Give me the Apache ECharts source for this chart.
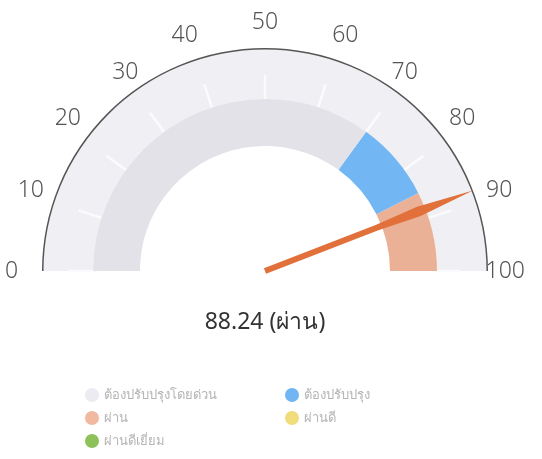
<!DOCTYPE html>
<html>
<head>
<meta charset="utf-8">
<script src="https://cdn.jsdelivr.net/npm/echarts@6/dist/echarts.min.js"></script>
<style>
  html, body { margin: 0; padding: 0; background: #fff; }
  #main { width: 542px; height: 459px; }
</style>
</head>
<body>
<div id="main"></div>
<script>
// gauge data
var gaugeMin = 0;
var gaugeMax = 100;
var scoreValue = [88.24];
var scoreLabel = 'ผ่าน';
// inner band: upper bound (0..1) of each coloured segment
var bandStops = [0.70, 0.85, 1.0];
var bandColors = ['#e2e2e8', '#72b6f4', '#eab196'];
// legend
var legendNames = ['ต้องปรับปรุงโดยด่วน', 'ผ่าน', 'ผ่านดีเยี่ยม', 'ต้องปรับปรุง', 'ผ่านดี'];
var legendColors = ['#ecebf2', '#f1b9a0', '#8dc15a', '#71b5f3', '#f0dc7a'];

var chart = echarts.init(document.getElementById('main'));
var ctr = [265, 271];
var fontFam = "'Noto Sans', 'DejaVu Sans', sans-serif";

var hidden = {
  axisTick: { show: false },
  axisLabel: { show: false },
  pointer: { show: false },
  anchor: { show: false },
  title: { show: false },
  detail: { show: false }
};

var option = {
  animation: false,
  legend: [
    {
      orient: 'vertical', left: 80, top: 383, itemGap: 9,
      itemWidth: 14, itemHeight: 14, icon: 'circle',
      data: legendNames.slice(0, 3),
      textStyle: { color: '#b5b5b5', fontSize: 13, fontFamily: fontFam }
    },
    {
      orient: 'vertical', left: 280, top: 383, itemGap: 9,
      itemWidth: 14, itemHeight: 14, icon: 'circle',
      data: legendNames.slice(3),
      textStyle: { color: '#b5b5b5', fontSize: 13, fontFamily: fontFam }
    }
  ],
  series: [
    Object.assign({
      type: 'gauge', center: ctr, radius: 222,
      startAngle: 180, endAngle: 0, min: gaugeMin, max: gaugeMax, splitNumber: 10,
      axisLine: { lineStyle: { width: 50, color: [[1, '#f0f0f4']] } },
      silent: true, data: []
    }, hidden, { splitLine: { show: true, distance: -24, length: 28, lineStyle: { color: '#fbfbfd', width: 2.5 } } }),
    Object.assign({
      type: 'gauge', center: ctr, radius: 172,
      startAngle: 180, endAngle: 0, min: gaugeMin, max: gaugeMax,
      axisLine: { lineStyle: { width: 47, color: bandStops.map(function (s, i) { return [s, bandColors[i]]; }) } },
      splitLine: { show: false },
      silent: true, data: []
    }, hidden),
    {
      type: 'gauge', center: ctr, radius: 223,
      startAngle: 180, endAngle: 0, min: gaugeMin, max: gaugeMax, splitNumber: 10,
      axisLine: { lineStyle: { width: 1.5, color: [[1, '#555']] } },
      splitLine: { show: false, length: 0 },
      axisTick: { show: false },
      axisLabel: {
        distance: -47, color: '#555', fontSize: 23, fontWeight: 300,
        fontFamily: fontFam, align: 'center', verticalAlign: 'middle'
      },
      pointer: {
        icon: 'path://M5,0 L10,26 L8,46 L8,100 L2,100 L2,46 L0,26 Z',
        length: '100%', width: 10, offsetCenter: [0, 0],
        itemStyle: { color: '#e2703a' }
      },
      anchor: { show: false },
      title: { show: false },
      detail: {
        offsetCenter: [0, 51], fontSize: 23, color: '#333', fontWeight: 400,
        fontFamily: fontFam,
        formatter: function (v) { return v.toFixed(2) + ' (' + scoreLabel + ')'; }
      },
      data: [{ value: scoreValue[0], name: '' }]
    },
    {
      type: 'pie', radius: [0, 0], center: [-100, -100], silent: true,
      label: { show: false }, labelLine: { show: false },
      data: legendNames.map(function (n, i) {
        return { name: n, value: 1, itemStyle: { color: legendColors[i] } };
      })
    }
  ]
};
chart.setOption(option);
</script>
</body>
</html>
